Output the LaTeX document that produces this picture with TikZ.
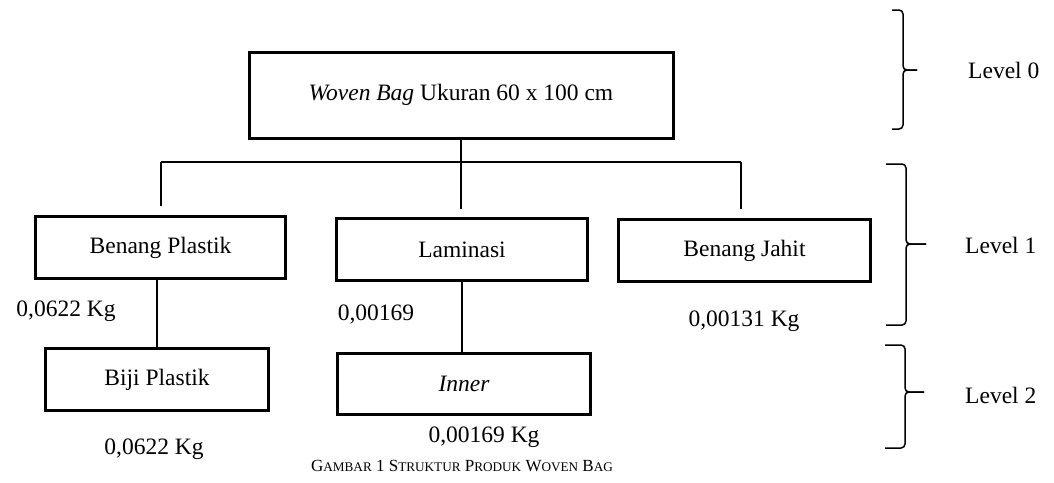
\documentclass[tikz,border=0pt]{standalone}
\usepackage{fontspec}
\setmainfont{Liberation Serif}
\newcommand\smcap[1]{{\fontsize{13.2}{16}\selectfont #1}}
\begin{document}
\begin{tikzpicture}[x=1pt,y=-1pt,
  box/.style={draw,line width=3pt,minimum height=62pt,inner sep=0pt,font=\fontsize{23.5}{28}\selectfont},
  lbl/.style={inner sep=0pt,font=\fontsize{23.5}{28}\selectfont},
  conn/.style={line width=1.8pt},
  hconn/.style={line width=1.2pt},
  brc/.style={line width=1.5pt,rounded corners=4pt}]
\useasboundingbox (0,0) rectangle (1054,482);

% boxes
\node[box,minimum width=424pt,minimum height=86pt] (top) at (461,95) {\textit{Woven Bag} Ukuran 60 x 100 cm};
\node[box,minimum width=250pt] (bp) at (160.5,247.5) {Benang Plastik};
\node[box,minimum width=251pt] (lam) at (462,249.5) {Laminasi};
\node[box,minimum width=252pt] (bj) at (744.5,250.5) {Benang Jahit};
\node[box,minimum width=223pt] (biji) at (157,379.5) {Biji Plastik};
\node[box,minimum width=253pt,minimum height=61pt] (inner) at (464,384) {\textit{Inner}};

% connector points
\coordinate (hl) at (161,162);
\coordinate (hr) at (741,162);
\coordinate (vl) at (161,206);
\coordinate (vr) at (741,209);
\coordinate (vm) at (461,209);

\draw[conn] (top.south) -- (vm);
\draw[hconn] (hl) -- (hr);
\draw[conn] (hl) -- (vl);
\draw[conn] (hr) -- (vr);
\draw[conn] (biji.north |- bp.south) -- (biji.north);
\draw[conn] (lam.south) -- (lam.south |- inner.north);

% weights
\node[lbl] (w1) at (66,311) {0,0622 Kg};
\node[lbl] (w2) at (376,314) {0,00169};
\node[lbl] (w3) at (744,321) {0,00131 Kg};
\node[lbl] (w4) at (154,449) {0,0622 Kg};
\node[lbl] (w5) at (484,437) {0,00169 Kg};

% braces
\draw[brc] (892,10) -- (903,10) -- (903,70) -- (917,70);
\draw[brc] (892,129) -- (903,129) -- (903,70) -- (917,70);
\draw[brc] (886,164) -- (906,164) -- (906,244) -- (926,244);
\draw[brc] (886,325) -- (906,325) -- (906,244) -- (926,244);
\draw[brc] (885,345) -- (905,345) -- (905,392) -- (924,392);
\draw[brc] (885,448) -- (905,448) -- (905,392) -- (924,392);

\node[lbl,anchor=west] (l0) at (968,70) {Level 0};
\node[lbl,anchor=west] (l1) at (965,245) {Level 1};
\node[lbl,anchor=west] (l2) at (965,395) {Level 2};

% caption
\node[inner sep=0pt,font=\fontsize{17}{20}\selectfont] (cap) at (462,466)
  {G\smcap{AMBAR} 1 S\smcap{TRUKTUR} P\smcap{RODUK} W\smcap{OVEN} B\smcap{AG}};
\end{tikzpicture}
\end{document}
